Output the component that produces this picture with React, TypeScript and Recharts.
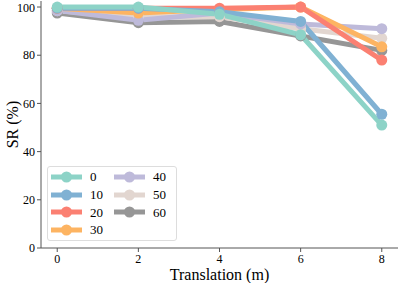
import { LineChart, Line, XAxis, YAxis } from 'recharts';

const translation = [0, 2, 4, 6, 8];
const sr0 = [100, 100, 97, 88.5, 51];
const sr10 = [99.5, 99.5, 98, 94, 55.5];
const sr20 = [99.5, 99.5, 99.5, 100, 78];
const sr30 = [99.5, 97.5, 99, 100, 83.5];
const sr40 = [98.5, 94.5, 97.5, 93, 91];
const sr50 = [98.5, 96, 96, 91, 87];
const sr60 = [97.5, 93.5, 94, 88, 82];

const seriesNames = ['0', '10', '20', '30', '40', '50', '60'];
const seriesValues = [sr0, sr10, sr20, sr30, sr40, sr50, sr60];
const colors = ['#8dd3c7', '#80b1d3', '#fb8072', '#fdb462', '#bebada', '#e2d6d0', '#969696'];
const yTicks = [0, 20, 40, 60, 80, 100];

const data = translation.map((x, i) => {
    const row: Record<string, number> = { x };
    seriesNames.forEach((n, k) => { row['s' + n] = seriesValues[k][i]; });
    return row;
});

const font = "'Liberation Serif', serif";
const frame = '#555';

function LegendBox() {
    const cols = [seriesNames.slice(0, 4), seriesNames.slice(4)];
    return (
        <div style={{ position: 'absolute', left: 47, top: 166, border: '1px solid #ddd', borderRadius: 3, background: 'rgba(255,255,255,0.85)', padding: '1px 10px 1px 3px', display: 'flex', gap: 11, fontSize: 13, lineHeight: '13px' }}>
            {cols.map((col, ci) => (
                <div key={ci}>
                    {col.map((n) => {
                        const c = colors[seriesNames.indexOf(n)];
                        return (
                            <div key={n} style={{ display: 'flex', alignItems: 'center', height: 17.7 }}>
                                <svg width={31} height={12} style={{ marginRight: 8 }}>
                                    <line x1={0} y1={6} x2={31} y2={6} stroke={c} strokeWidth={5} />
                                    <circle cx={15.5} cy={6} r={5.5} fill={c} />
                                </svg>
                                <span>{n}</span>
                            </div>
                        );
                    })}
                </div>
            ))}
        </div>
    );
}

export default function App() {
    const order = [6, 5, 4, 3, 2, 1, 0];
    return (
        <div style={{ position: 'absolute', left: 0, top: 0, width: 399, height: 283, background: '#fff', fontFamily: font }}>
            <LineChart width={399} height={283} data={data} margin={{ top: 1, right: 1, left: 0, bottom: 0 }} style={{ fontFamily: font }}>
                <XAxis dataKey="x" type="number" domain={[-0.4, 8.4]} ticks={translation} height={35}
                    stroke={frame} tick={{ fill: '#000', fontSize: 12 }} tickSize={4}
                    label={{ value: 'Translation (m)', position: 'insideBottom', offset: 3, fill: '#000', fontSize: 16 }} />
                <XAxis xAxisId="top" dataKey="x" type="number" domain={[-0.4, 8.4]} orientation="top" height={0} tick={false} tickLine={false} stroke={frame} />
                <YAxis domain={[0, 102.5]} ticks={yTicks} width={41} stroke={frame} tickSize={4}
                    tick={{ fill: '#000', fontSize: 12 }}
                    label={{ value: 'SR (%)', angle: -90, position: 'insideLeft', offset: 12, style: { textAnchor: 'middle' }, fill: '#000', fontSize: 16 }} />
                <YAxis yAxisId="right" orientation="right" width={0} domain={[0, 102.5]} tick={false} tickLine={false} stroke={frame} />
                {order.map((k) => (
                    <Line key={seriesNames[k]} dataKey={'s' + seriesNames[k]} name={seriesNames[k]} stroke={colors[k]} strokeWidth={5}
                        dot={{ r: 5.5, fill: colors[k], stroke: 'none' }} isAnimationActive={false} />
                ))}
            </LineChart>
            <LegendBox />
        </div>
    );
}
